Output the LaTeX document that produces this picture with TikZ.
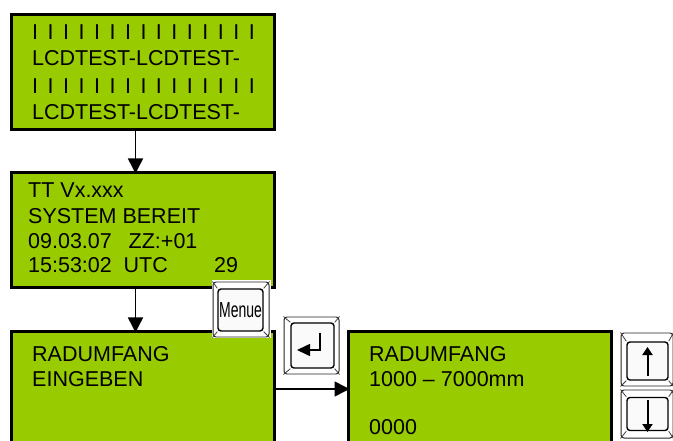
\documentclass[tikz,border=0pt]{standalone}
\usepackage{fontspec}
\setmainfont{Liberation Sans}
\usetikzlibrary{arrows.meta}
\definecolor{lcd}{RGB}{153,204,0}
\tikzset{
 lcdbox/.style={draw=black,line width=2.3pt,fill=lcd,anchor=north west,minimum width=263bp,inner sep=0pt,outer sep=0pt},
 lbl/.style={anchor=base west,inner sep=0pt,font=\fontsize{21.5bp}{24bp}\selectfont},
 arr/.style={line width=1.5pt,-{Triangle[length=15bp,width=15bp]},shorten >=-1pt},
 keycap/.style={draw=black!85,line width=1pt,fill=white,rounded corners=3bp,inner sep=0pt,anchor=center},
 keyinner/.style={draw=black,line width=1.4pt,fill=black!2,rounded corners=3bp,inner sep=0pt,anchor=center},
 bevel/.style={line width=.8pt,black!75}
}
\begin{document}
\begin{tikzpicture}[x=1bp,y=-1bp]
\useasboundingbox (0,0) rectangle (673,441);
\begin{scope}
\clip (0,0) rectangle (673,441);
\node[lcdbox,minimum height=115bp] (a) at (11.5,14.5) {};
\node[lcdbox,minimum height=115bp] (b) at (11.5,172.5) {};
\node[lcdbox,minimum height=130bp] (c) at (11.5,331.5) {};
\node[lcdbox,minimum height=130bp] (d) at (348.5,331.5) {};
\end{scope}
\foreach \n/\y/\t in {t1/39.5/{\spaceskip=9.5bp I I I I I I I I I I I I I I I},t2/65.5/{LCDTEST-LCDTEST-},t3/94/{\spaceskip=9.5bp I I I I I I I I I I I I I I I},t4/120/{LCDTEST-LCDTEST-}}
 \node[lbl] (\n) at (32,\y) {\t};
\foreach \n/\y/\t in {u1/198/{TT Vx.xxx},u2/224/{SYSTEM BEREIT},u3/249/{09.03.07},u4/273/{15:53:02}}
 \node[lbl] (\n) at (28,\y) {\t};
\node[lbl] (u6) at (128.5,249) {ZZ:+01};
\node[lbl] (u7) at (123.5,273) {UTC};
\node[lbl] (u5) at (214,273) {29};
\node[lbl] (c1) at (32,361) {RADUMFANG};
\node[lbl] (c2) at (32,386) {EINGEBEN};
\node[lbl] (d1) at (369,361) {RADUMFANG};
\node[lbl] (d2) at (369,386) {1000 – 7000mm};
\node[lbl] (d3) at (369,434) {0000};
\coordinate (p1) at (135.5,129);
\draw[arr] (a.south -| p1) -- (b.north -| p1);
\draw[arr] (b.south -| p1) -- (c.north -| p1);
\coordinate (r) at (0,389);
\draw[arr] (c.east |- r) -- (d.west |- r);
% keys
\fill[white] (212,280) rectangle (271,338);
\node[keycap,minimum width=56bp,minimum height=55bp] (m) at (241,309.5) {};
\node[keyinner,minimum width=45bp,minimum height=42bp] (mi) at (240.5,310) {\fontsize{14bp}{14bp}\selectfont\scalebox{1}[1.55]{Menue}};
\foreach \c in {north west,north east,south west,south east}{\draw[bevel] (m.\c) -- (mi.\c);}
\node[keycap,minimum width=55bp,minimum height=57bp] (e) at (311.5,345.5) {};
\node[keyinner,minimum width=43bp,minimum height=45bp] (ei) at (312.5,345.5) {};
\foreach \c in {north west,north east,south west,south east}{\draw[bevel] (e.\c) -- (ei.\c);}
\coordinate (e1) at (320,333);\coordinate (e2) at (320,350);\coordinate (e3) at (297,350);
\draw[line width=1.6pt,-{Triangle[length=13bp,width=12bp]}] (e1) -- (e2) -- (e3);
\node[keycap,minimum width=52bp,minimum height=53bp] (up) at (647,359.5) {};
\node[keyinner,minimum width=41bp,minimum height=38bp] (upi) at (647.5,361) {};
\foreach \c in {north west,north east,south west,south east}{\draw[bevel] (up.\c) -- (upi.\c);}
\draw[line width=2pt,-{Triangle[length=8bp,width=10bp]}] (upi.center) ++(0,15) -- ++(0,-29);
\node[keycap,minimum width=52bp,minimum height=48bp] (dn) at (647,414) {};
\node[keyinner,minimum width=41bp,minimum height=33bp] (dni) at (647.5,414) {};
\foreach \c in {north west,north east,south west,south east}{\draw[bevel] (dn.\c) -- (dni.\c);}
\draw[line width=2pt,-{Triangle[length=8bp,width=10bp]}] (dni.center) ++(0,-14) -- ++(0,32);
\end{tikzpicture}
\end{document}
